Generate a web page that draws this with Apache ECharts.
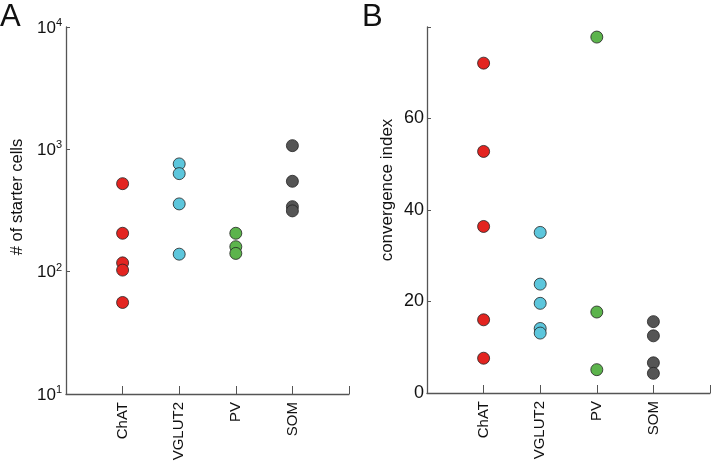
<!DOCTYPE html>
<html><head><meta charset="utf-8">
<script src="https://cdn.jsdelivr.net/npm/echarts@6/dist/echarts.min.js"></script>
<style>html,body{margin:0;padding:0;background:#fff}#c{width:711px;height:464px}</style>
</head><body><div id="c"></div>
<script>
const categories = ['ChAT', 'VGLUT2', 'PV', 'SOM'];
const colors = ['#e32420', '#5cc6dc', '#5cb44c', '#555555'];
// Panel A: # of starter cells (log scale)
const starterChAT = [524, 206, 118, 103, 56];
const starterVGLUT2 = [760, 633, 358, 139];
const starterPV = [206, 160, 141];
const starterSOM = [1072, 548, 340, 314];
// Panel B: convergence index
const convChAT = [72.1, 52.8, 36.4, 16.0, 7.6];
const convVGLUT2 = [35.1, 23.8, 19.6, 14.1, 13.1];
const convPV = [77.8, 17.7, 5.1];
const convSOM = [15.6, 12.5, 6.6, 4.3];
const logTicks = [10, 100, 1000, 10000];
const linTicks = [0, 20, 40, 60, 80];

const groupsA = [starterChAT, starterVGLUT2, starterPV, starterSOM];
const groupsB = [convChAT, convVGLUT2, convPV, convSOM];

const axisColor = '#555';
const font = 'Liberation Sans, Arial, sans-serif';

function xAxis(gi) {
  return {
    type: 'value', gridIndex: gi, min: 0, max: 5, interval: 1,
    axisLine: {show: true, lineStyle: {color: axisColor, width: 1.3}},
    axisTick: {show: true, inside: true, length: 8, lineStyle: {color: axisColor, width: 1}},
    splitLine: {show: false},
    axisLabel: {
      rotate: 90, margin: 8, fontSize: 15, color: '#111', fontFamily: font,
      formatter: v => categories[v - 1] || ''
    }
  };
}

function mkSeries(groups, xi, yi) {
  return groups.map((vals, i) => ({
    type: 'scatter', xAxisIndex: xi, yAxisIndex: yi,
    symbol: 'circle', symbolSize: 12,
    itemStyle: {color: colors[i], borderColor: '#222', borderWidth: 0.8, opacity: 1},
    data: vals.map(v => [i + 1, v]),
    animation: false
  }));
}

const chart = echarts.init(document.getElementById('c'));
chart.setOption({
  animation: false,
  grid: [
    {left: 66, top: 27, width: 283, height: 367},
    {left: 427, top: 27, width: 283, height: 366}
  ],
  xAxis: [xAxis(0), xAxis(1)],
  yAxis: [
    {
      type: 'log', gridIndex: 0, logBase: 10, min: logTicks[0], max: logTicks[logTicks.length - 1],
      axisLine: {show: true, lineStyle: {color: axisColor, width: 1.3}},
      axisTick: {show: true, inside: true, length: 4, lineStyle: {color: axisColor, width: 1}},
      minorTick: {show: false},
      splitLine: {show: false},
      axisLabel: {
        margin: 4, fontFamily: font,
        formatter: v => '{b|10}{s|' + Math.round(Math.log10(v)) + '}',
        rich: {
          b: {fontSize: 17, color: '#111', fontFamily: font, lineHeight: 19, verticalAlign: 'bottom'},
          s: {fontSize: 11, color: '#111', fontFamily: font, lineHeight: 19, verticalAlign: 'top', padding: [0, 0, 6, 0]}
        }
      }
    },
    {
      type: 'value', gridIndex: 1, min: linTicks[0], max: linTicks[linTicks.length - 1], interval: 20,
      axisLine: {show: true, lineStyle: {color: axisColor, width: 1.3}},
      axisTick: {show: true, inside: true, length: 4, lineStyle: {color: axisColor, width: 1}},
      splitLine: {show: false},
      axisLabel: {
        margin: 3, fontSize: 18, color: '#111', fontFamily: font,
        formatter: v => (v === 80 ? '' : String(v))
      }
    }
  ],
  graphic: [
    {type: 'text', left: 0, top: 2, style: {text: 'A', fontSize: 31, fontFamily: font, fill: '#111'}},
    {type: 'text', left: 362, top: 2, style: {text: 'B', fontSize: 31, fontFamily: font, fill: '#111'}},
    {type: 'text', x: 17, y: 197, rotation: Math.PI / 2,
      style: {text: '# of starter cells', fontSize: 16.5, fontFamily: font, fill: '#111', align: 'center', verticalAlign: 'middle'}},
    {type: 'text', x: 387, y: 190, rotation: Math.PI / 2,
      style: {text: 'convergence index', fontSize: 17, fontFamily: font, fill: '#111', align: 'center', verticalAlign: 'middle'}}
  ],
  series: mkSeries(groupsA, 0, 0).concat(mkSeries(groupsB, 1, 1))
});
</script>
</body></html>
